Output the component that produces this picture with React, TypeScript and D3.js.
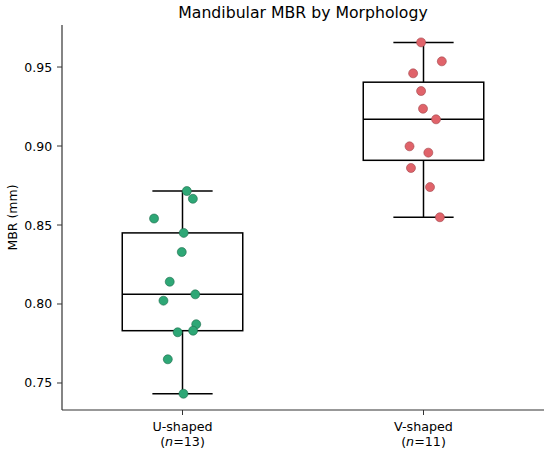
import React from "react";
import * as d3 from "d3";

const categories = ["U-shaped", "V-shaped"];
const counts = [13, 11];
const uValues = [0.8715, 0.8666, 0.8541, 0.845, 0.8329, 0.8141, 0.8061, 0.8021, 0.7872, 0.7821, 0.7831, 0.765, 0.7432];
const uJitter = [0.018, 0.043, -0.118, 0.005, -0.003, -0.053, 0.053, -0.079, 0.057, -0.02, 0.044, -0.061, 0.004];
const vValues = [0.9656, 0.9536, 0.946, 0.9348, 0.9236, 0.9169, 0.8998, 0.8958, 0.8861, 0.874, 0.8549];
const vJitter = [-0.01, 0.076, -0.043, -0.01, -0.002, 0.052, -0.058, 0.02, -0.052, 0.027, 0.068];
const yTicks = [0.75, 0.8, 0.85, 0.9, 0.95];
const fills = ["#2ea776", "#e0636a"];
const edges = ["#1e6b4b", "#a0474b"];

const W = 550;
const H = 454;
const left = 62;
const right = 544;
const top = 25;
const bottom = 410;
const font = "'DejaVu Sans', sans-serif";

export default function App() {
  const x = d3.scaleLinear().domain([-0.5, 1.5]).range([left, right]);
  const y = d3.scaleLinear().domain([0.7329, 0.9766]).range([bottom, top]);
  const groups = [
    { vals: uValues, jit: uJitter },
    { vals: vValues, jit: vJitter },
  ];
  const unit = x(1) - x(0);

  return (
    <svg width={W} height={H} style={{ position: "absolute", left: 0, top: 0 }} fontFamily={font}>
      <rect width={W} height={H} fill="#fff" />
      <text x={(left + right) / 2} y={17.5} textAnchor="middle" fontSize={15.7} fill="#000">
        Mandibular MBR by Morphology
      </text>
      {groups.map((g, i) => {
        const s = g.vals.slice().sort(d3.ascending);
        const q1 = d3.quantile(s, 0.25)!;
        const med = d3.quantile(s, 0.5)!;
        const q3 = d3.quantile(s, 0.75)!;
        const iqr = q3 - q1;
        const lo = d3.min(s.filter((v) => v >= q1 - 1.5 * iqr))!;
        const hi = d3.max(s.filter((v) => v <= q3 + 1.5 * iqr))!;
        const cx = x(i);
        const bw = unit * 0.5;
        const cw = unit * 0.25;
        return (
          <g key={i} stroke="#000" strokeWidth={1.5} fill="none">
            <line x1={cx} x2={cx} y1={y(q3)} y2={y(hi)} />
            <line x1={cx} x2={cx} y1={y(q1)} y2={y(lo)} />
            <line x1={cx - cw / 2} x2={cx + cw / 2} y1={y(hi)} y2={y(hi)} />
            <line x1={cx - cw / 2} x2={cx + cw / 2} y1={y(lo)} y2={y(lo)} />
            <rect x={cx - bw / 2} y={y(q3)} width={bw} height={y(q1) - y(q3)} />
            <line x1={cx - bw / 2} x2={cx + bw / 2} y1={y(med)} y2={y(med)} />
          </g>
        );
      })}
      {groups.map((g, i) =>
        g.vals.map((v, j) => (
          <circle
            key={`${i}-${j}`}
            cx={x(i + g.jit[j])}
            cy={y(v)}
            r={4.5}
            fill={fills[i]}
            stroke={edges[i]}
            strokeWidth={0.6}
          />
        ))
      )}
      <line x1={left} x2={left} y1={top} y2={bottom} stroke="#333" strokeWidth={1.2} />
      <line x1={left} x2={right} y1={bottom} y2={bottom} stroke="#333" strokeWidth={1.2} />
      {yTicks.map((t) => (
        <g key={t}>
          <line x1={left - 5} x2={left} y1={y(t)} y2={y(t)} stroke="#333" strokeWidth={1} />
          <text x={left - 9.8} y={y(t)} dy="0.36em" textAnchor="end" fontSize={12.5} fill="#000">
            {t.toFixed(2)}
          </text>
        </g>
      ))}
      {categories.map((c, i) => (
        <g key={c}>
          <line x1={x(i)} x2={x(i)} y1={bottom} y2={bottom + 5} stroke="#333" strokeWidth={1} />
          <text x={x(i)} y={430.5} textAnchor="middle" fontSize={12.7} fill="#000">
            {c}
          </text>
          <text x={x(i)} y={445.5} textAnchor="middle" fontSize={12.7} fill="#000">
            (<tspan fontStyle="italic">n</tspan>={counts[i]})
          </text>
        </g>
      ))}
      <text
        transform={`translate(17, ${(top + bottom) / 2}) rotate(-90)`}
        textAnchor="middle"
        fontSize={12.5}
        fill="#000"
      >
        MBR (mm)
      </text>
    </svg>
  );
}
